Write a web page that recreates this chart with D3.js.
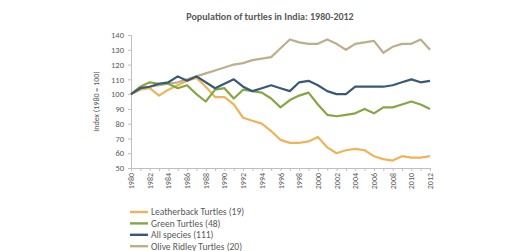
<!DOCTYPE html>
<html>
<head>
<meta charset="utf-8">
<script src="https://cdn.jsdelivr.net/npm/d3@7"></script>
<style>
  body { margin: 0; background: #fff; }
  text { font-family: Carlito, "Liberation Sans", Arial, sans-serif; fill: #595959; }
</style>
</head>
<body>
<div id="chart"></div>
<script>
var years = d3.range(1980, 2013);

var leatherback = [100,103,104,99,103,106,109,111,105,98,98,93,84,82,80,75,69,67,67,68,71,64,60,62,63,62,58,56,55,58,57,57,58];
var green = [100,105,108,107,107,104,106,100,95,103,104,97,103,102,101,97,91,96,99,101,93,86,85,86,87,90,87,91,91,93,95,93,90];
var allSpecies = [100,104,105,107,108,112,109,112,108,104,107,110,105,102,104,106,104,102,108,109,106,102,100,100,105,105,105,105,106,108,110,108,109];
var oliveRidley = [100,104,105,106,107,108,110,112,114,116,118,120,121,123,124,125,131,137,135,134,134,137,134,130,134,135,136,128,132,134,134,137,130];

var seriesNames = ["Leatherback Turtles (19)", "Green Turtles (48)", "All species (111)", "Olive Ridley Turtles (20)"];
var seriesColours = ["#EDB45A", "#86A646", "#3A5878", "#BDAE8C"];
var yTicks = [50, 60, 70, 80, 90, 100, 110, 120, 130, 140];

var series = [leatherback, green, allSpecies, oliveRidley];

var svgWidth = 521,
    svgHeight = 251;

var xscale = d3.scaleLinear()
    .domain([1980, 2012])
    .range([131, 430]);

var yscale = d3.scaleLinear()
    .domain([50, 140])
    .range([168, 35]);

var svg = d3.select('#chart')
    .append('svg')
      .attr('width', svgWidth)
      .attr('height', svgHeight);

svg.append('text')
    .attr('x', 270)
    .attr('y', 20)
    .attr('text-anchor', 'middle')
    .style('font-size', '10px')
    .style('font-weight', 'bold')
    .text('Population of turtles in India: 1980-2012');

// y axis
var yAxis = svg.append('g')
    .attr('transform', 'translate(' + xscale.range()[0] + ',0)')
    .call(d3.axisLeft(yscale).tickValues(yTicks).tickSize(3).tickPadding(4));
yAxis.selectAll('path, line').attr('stroke', '#BFBFBF');
yAxis.selectAll('text').style('font-size', '8.5px').style('fill', '#595959');

svg.append('text')
    .attr('transform', 'translate(99,' + yscale(95) + ') rotate(-90)')
    .attr('text-anchor', 'middle')
    .style('font-size', '8px')
    .text('Index (1980 = 100)');

// x axis
var xAxis = svg.append('g')
    .attr('transform', 'translate(0,' + yscale.range()[0] + ')')
    .call(d3.axisBottom(xscale).tickValues(years).tickSize(3).tickFormat(''));
xAxis.selectAll('path, line').attr('stroke', '#BFBFBF');

svg.append('g').selectAll('text')
    .data(years.filter(function (d) { return d % 2 === 0; }))
    .enter().append('text')
      .attr('transform', function (d) {
        return 'translate(' + (xscale(d) + 3) + ',' + (yscale.range()[0] + 5) + ') rotate(-90)';
      })
      .attr('text-anchor', 'end')
      .style('font-size', '8px')
      .text(function (d) { return d; });

var line = d3.line()
    .x(function (d, i) { return xscale(years[i]); })
    .y(function (d) { return yscale(d); });

// draw olive first so the others sit on top, like the original
var order = [3, 0, 1, 2];
svg.append('g').selectAll('path')
    .data(order)
    .enter().append('path')
      .attr('d', function (k) { return line(series[k]); })
      .attr('fill', 'none')
      .attr('stroke', function (k) { return seriesColours[k]; })
      .attr('stroke-width', 2.2)
      .attr('stroke-linejoin', 'round');

// legend
var legend = svg.append('g').selectAll('g')
    .data(seriesNames)
    .enter().append('g')
      .attr('transform', function (d, i) { return 'translate(130,' + (212 + i * 11.4) + ')'; });

legend.append('line')
    .attr('x1', 0).attr('x2', 18)
    .attr('stroke', function (d, i) { return seriesColours[i]; })
    .attr('stroke-width', 2.4);

legend.append('text')
    .attr('x', 21)
    .attr('y', 3.3)
    .style('font-size', '9.5px')
    .text(function (d) { return d; });
</script>
</body>
</html>
